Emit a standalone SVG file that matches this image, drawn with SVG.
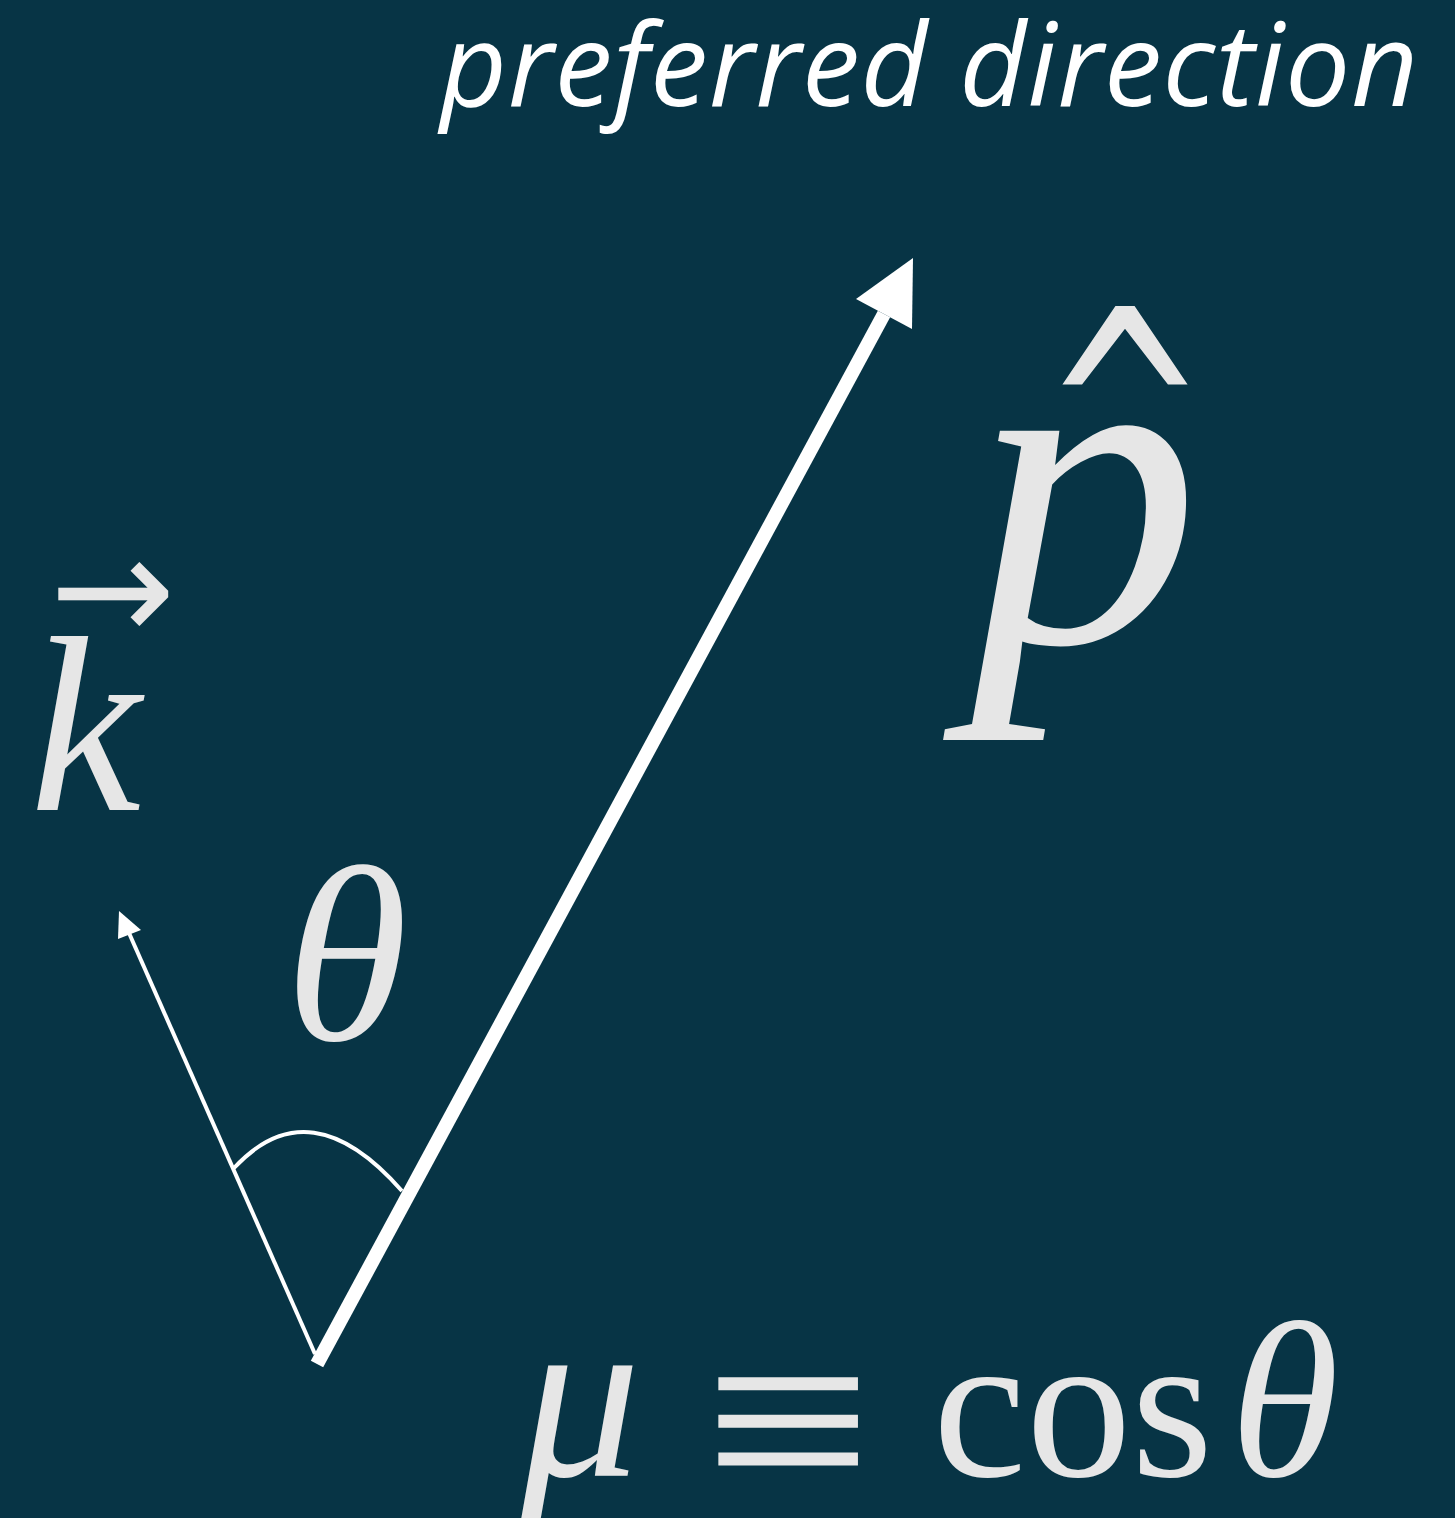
<svg xmlns="http://www.w3.org/2000/svg" width="1455" height="1518" viewBox="0 0 1455 1518">
<style>
.math{font-family:"Liberation Serif","DejaVu Serif",serif;fill:#e6e6e6}
.it{font-style:italic}
.sym{font-family:"DejaVu Sans",sans-serif;fill:#e6e6e6}
.title{font-family:"Open Sans","Noto Sans",sans-serif;font-style:italic;fill:#ffffff}
.line{stroke:#ffffff;fill:none}
.head{fill:#ffffff}
</style>
<rect width="1455" height="1518" fill="#073445"/>
<g id="title"><text class="title" x="440" y="106" font-size="116" textLength="978" lengthAdjust="spacing">preferred direction</text></g>
<g id="connectors">
<line class="line" x1="317" y1="1364" x2="884" y2="314" stroke-width="14"/>
<polygon class="head" points="913,258 856,299 912,329"/>
<line class="line" x1="315" y1="1354" x2="129" y2="933" stroke-width="4"/>
<polygon class="head" points="119,911 118,939 141,930"/>
<path class="line" d="M234,1168 Q310,1086 402,1191" stroke-width="4"/>
</g>
<g id="k-label">
<text class="sym" x="50" y="641" font-size="150">→</text>
<text class="math it" x="30" y="810" font-size="250">k</text>
</g>
<g id="theta-label"><text class="math it" x="285" y="1040" font-size="250">θ</text></g>
<g id="p-label">
<text class="sym" transform="translate(1125,516) scale(1,1.44)" x="0" y="0" font-size="200" text-anchor="middle">^</text>
<text class="math it" x="970" y="642" font-size="460">p</text>
</g>
<g id="mu-label">
<text class="math it" x="520" y="1476" font-size="240">μ</text>
<text class="math" transform="translate(788,1508) scale(1,0.87)" x="0" y="0" font-size="300" text-anchor="middle">≡</text>
<text class="math" x="933" y="1476" font-size="210">cos</text>
<text class="math it" x="1230" y="1476" font-size="222">θ</text>
</g>
</svg>
